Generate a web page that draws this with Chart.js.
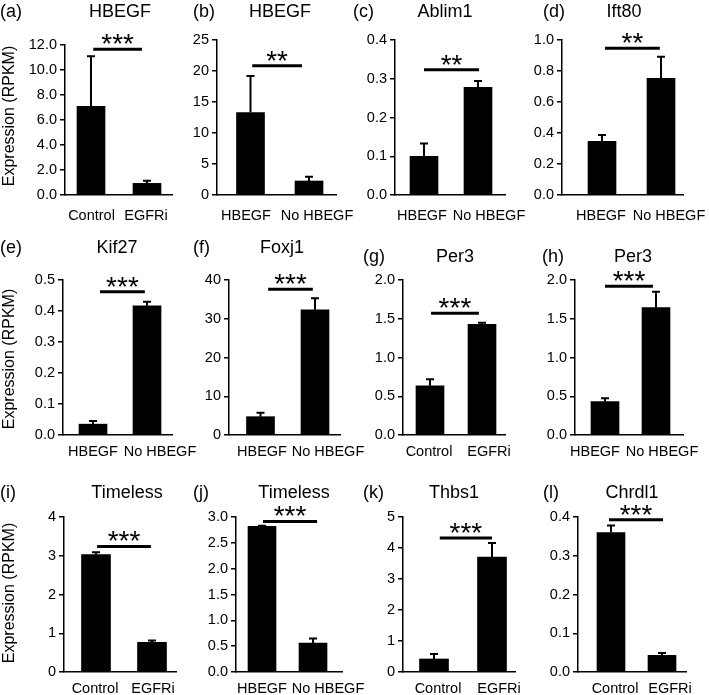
<!DOCTYPE html>
<html>
<head>
<meta charset="utf-8">
<script src="https://cdn.jsdelivr.net/npm/chart.js@4.4.1/dist/chart.umd.min.js"></script>
<style>
  body { margin: 0; background: #fff; }
  #wrap { position: relative; width: 709px; height: 695px; }
  #wrap canvas { position: absolute; left: 0; top: 0; }
</style>
</head>
<body>
<div id="wrap"></div>
<script>
// panel data
const letters = ["(a)", "(b)", "(c)", "(d)", "(e)", "(f)", "(g)", "(h)", "(i)", "(j)", "(k)", "(l)"];
const genes = ["HBEGF", "HBEGF", "Ablim1", "Ift80", "Kif27", "Foxj1", "Per3", "Per3", "Timeless", "Timeless", "Thbs1", "Chrdl1"];
const groups = [
  ["Control", "EGFRi"], ["HBEGF", "No HBEGF"], ["HBEGF", "No HBEGF"], ["HBEGF", "No HBEGF"],
  ["HBEGF", "No HBEGF"], ["HBEGF", "No HBEGF"], ["Control", "EGFRi"], ["HBEGF", "No HBEGF"],
  ["Control", "EGFRi"], ["HBEGF", "No HBEGF"], ["Control", "EGFRi"], ["Control", "EGFRi"]
];
const means = [
  [7.1, 0.93], [13.3, 2.26], [0.10, 0.278], [0.346, 0.753],
  [0.035, 0.417], [4.73, 32.3], [0.636, 1.428], [0.43, 1.643],
  [3.03, 0.765], [2.818, 0.56], [0.42, 3.71], [0.36, 0.043]
];
const sds = [
  [4.0, 0.21], [5.9, 0.69], [0.033, 0.016], [0.041, 0.139],
  [0.01, 0.013], [1.03, 3.0], [0.084, 0.022], [0.043, 0.207],
  [0.06, 0.045], [0.012, 0.09], [0.16, 0.45], [0.018, 0.006]
];
const stars = ["***", "**", "**", "**", "***", "***", "***", "***", "***", "***", "***", "***"];
const sigY = [11.66, 20.85, 0.323, 0.946, 0.462, 37.6, 1.57, 1.92, 3.24, 2.915, 4.32, 0.393];
const sigSpan = [
  [1.04, 1.91], [1.03, 1.88], [1.0, 2.02], [1.05, 1.98],
  [1.13, 1.96], [1.14, 1.96], [1.02, 1.94], [1.0, 1.94],
  [1.02, 1.98], [1.02, 2.08], [1.1, 2.0], [0.96, 2.02]
];
const yMax = [12, 25, 0.4, 1.0, 0.5, 40, 2.0, 2.0, 4, 3.0, 5, 0.4];
const yStep = [2, 5, 0.1, 0.2, 0.1, 10, 0.5, 0.5, 1, 0.5, 1, 0.1];
const yDecimals = [1, 0, 1, 1, 1, 0, 1, 1, 0, 1, 0, 1];

// layout (page pixels)
const W = 709, H = 695;
const frames = [
  { L: 65, R: 172, c1: 91, c2: 147, top: 45, bottom: 195 },
  { L: 217, R: 336, c1: 250.5, c2: 309, top: 40, bottom: 195 },
  { L: 395, R: 505, c1: 424, c2: 478, top: 40, bottom: 195 },
  { L: 562, R: 683, c1: 602, c2: 661, top: 40, bottom: 195 },
  { L: 63, R: 172, c1: 93, c2: 147, top: 280, bottom: 435 },
  { L: 229, R: 340, c1: 260.5, c2: 315, top: 280, bottom: 435 },
  { L: 403, R: 505, c1: 430, c2: 482, top: 280, bottom: 435 },
  { L: 575, R: 683, c1: 605, c2: 656, top: 280, bottom: 435 },
  { L: 64, R: 176, c1: 96, c2: 152, top: 517, bottom: 672 },
  { L: 236, R: 342, c1: 262, c2: 313, top: 517, bottom: 672 },
  { L: 403, R: 515, c1: 434, c2: 492, top: 517, bottom: 672 },
  { L: 578, R: 686, c1: 611, c2: 662, top: 517, bottom: 672 }
];
// centres of the category labels (they are not exactly under the bars)
const labelX = [[91.5, 146], [246, 317], [422, 489], [601, 669],
  [93, 160], [262, 328], [429, 489], [595, 662],
  [95, 153], [262, 328], [438, 499], [615, 670]];
const titlePos = [[120, 12.5], [280, 12.5], [445, 12.5], [624, 12.5],
  [117, 248], [282, 248], [455, 257], [633, 257],
  [127, 493], [294, 493], [454, 493], [632, 493]];
const letterPos = [[0, 12.5], [193, 12.5], [353, 12.5], [543, 12.5],
  [0, 248], [193, 248], [363, 257], [542, 257],
  [0, 493], [193, 493], [363, 493], [543, 493]];
const yTitleCenter = [116, 359, 593];

const FONT = '"Liberation Sans", Arial, Helvetica, sans-serif';
Chart.defaults.font.family = FONT;
Chart.defaults.color = "#000";

// error bars, significance bars, titles
const panelPlugin = {
  id: "panel",
  afterDraw(chart) {
    const i = chart.options.plugins.panel.index;
    const ctx = chart.ctx;
    const xs = chart.scales.x, ys = chart.scales.y;
    ctx.save();
    ctx.strokeStyle = "#000";
    ctx.fillStyle = "#000";

    ctx.lineWidth = 2;
    means[i].forEach((m, k) => {
      const x = xs.getPixelForValue(k + 1);
      const y0 = ys.getPixelForValue(m);
      const y1 = ys.getPixelForValue(m + sds[i][k]);
      ctx.beginPath();
      ctx.moveTo(x, y0);
      ctx.lineTo(x, y1);
      ctx.moveTo(x - 4, y1);
      ctx.lineTo(x + 4, y1);
      ctx.stroke();
    });

    const sy = ys.getPixelForValue(sigY[i]);
    const sx1 = xs.getPixelForValue(sigSpan[i][0]);
    const sx2 = xs.getPixelForValue(sigSpan[i][1]);
    ctx.lineWidth = 3;
    ctx.beginPath();
    ctx.moveTo(sx1, sy);
    ctx.lineTo(sx2, sy);
    ctx.stroke();
    ctx.font = "28px " + FONT;
    ctx.textAlign = "center";
    ctx.textBaseline = "alphabetic";
    ctx.fillText(stars[i], (sx1 + sx2) / 2, sy + 4);

    ctx.font = "18px " + FONT;
    ctx.textBaseline = "middle";
    ctx.fillText(genes[i], titlePos[i][0], titlePos[i][1]);
    ctx.textAlign = "left";
    ctx.fillText(letters[i], letterPos[i][0], letterPos[i][1]);

    if (i % 4 === 0) {
      ctx.font = "16px " + FONT;
      ctx.textAlign = "center";
      ctx.translate(10, yTitleCenter[i / 4]);
      ctx.rotate(-Math.PI / 2);
      ctx.fillText("Expression (RPKM)", 0, 0);
    }
    ctx.restore();
  }
};

const wrap = document.getElementById("wrap");
frames.forEach((f, i) => {
  const canvas = document.createElement("canvas");
  canvas.width = W;
  canvas.height = H;
  wrap.appendChild(canvas);

  const unit = f.c2 - f.c1;
  const xMin = 1 - (f.c1 - f.L) / unit;
  const xMax = 2 + (f.R - f.c2) / unit;
  const tickVals = labelX[i].map((p) => 1 + (p - f.c1) / unit);
  const yAxisW = 45, xAxisH = 30;

  new Chart(canvas, {
    type: "bar",
    data: {
      datasets: [{
        data: means[i].map((m, k) => ({ x: k + 1, y: m })),
        backgroundColor: "#000",
        borderWidth: 0,
        barThickness: (i === 8 || i === 10) ? 29 : 28
      }]
    },
    options: {
      responsive: false,
      animation: false,
      devicePixelRatio: 1,
      layout: {
        padding: { left: f.L - yAxisW, right: W - f.R, top: f.top, bottom: H - f.bottom - xAxisH }
      },
      plugins: {
        legend: { display: false },
        tooltip: { enabled: false },
        panel: { index: i }
      },
      scales: {
        x: {
          type: "linear",
          offset: false,
          min: xMin,
          max: xMax,
          afterBuildTicks: (s) => { s.ticks = tickVals.map((v) => ({ value: v })); },
          afterFit: (s) => { s.height = xAxisH; s.paddingLeft = 0; s.paddingRight = 0; },
          ticks: {
            font: { size: 14.5 },
            padding: i < 4 ? 12 : 8,
            maxRotation: 0,
            autoSkip: false,
            callback: (v, k) => groups[i][k]
          },
          grid: { display: false, drawTicks: false, offset: false },
          border: { display: true, color: "#000", width: 1.5 }
        },
        y: {
          min: 0,
          max: yMax[i],
          afterFit: (s) => { s.width = yAxisW; s.paddingTop = 0; s.paddingBottom = 0; },
          ticks: {
            stepSize: yStep[i],
            font: { size: 14.5 },
            padding: 3,
            callback: (v) => Number(v).toFixed(yDecimals[i])
          },
          grid: { drawOnChartArea: false, drawTicks: true, tickLength: 5, color: "#000", lineWidth: 1.5 },
          border: { display: true, color: "#000", width: 1.5 }
        }
      }
    },
    plugins: [panelPlugin]
  });
});
</script>
</body>
</html>
